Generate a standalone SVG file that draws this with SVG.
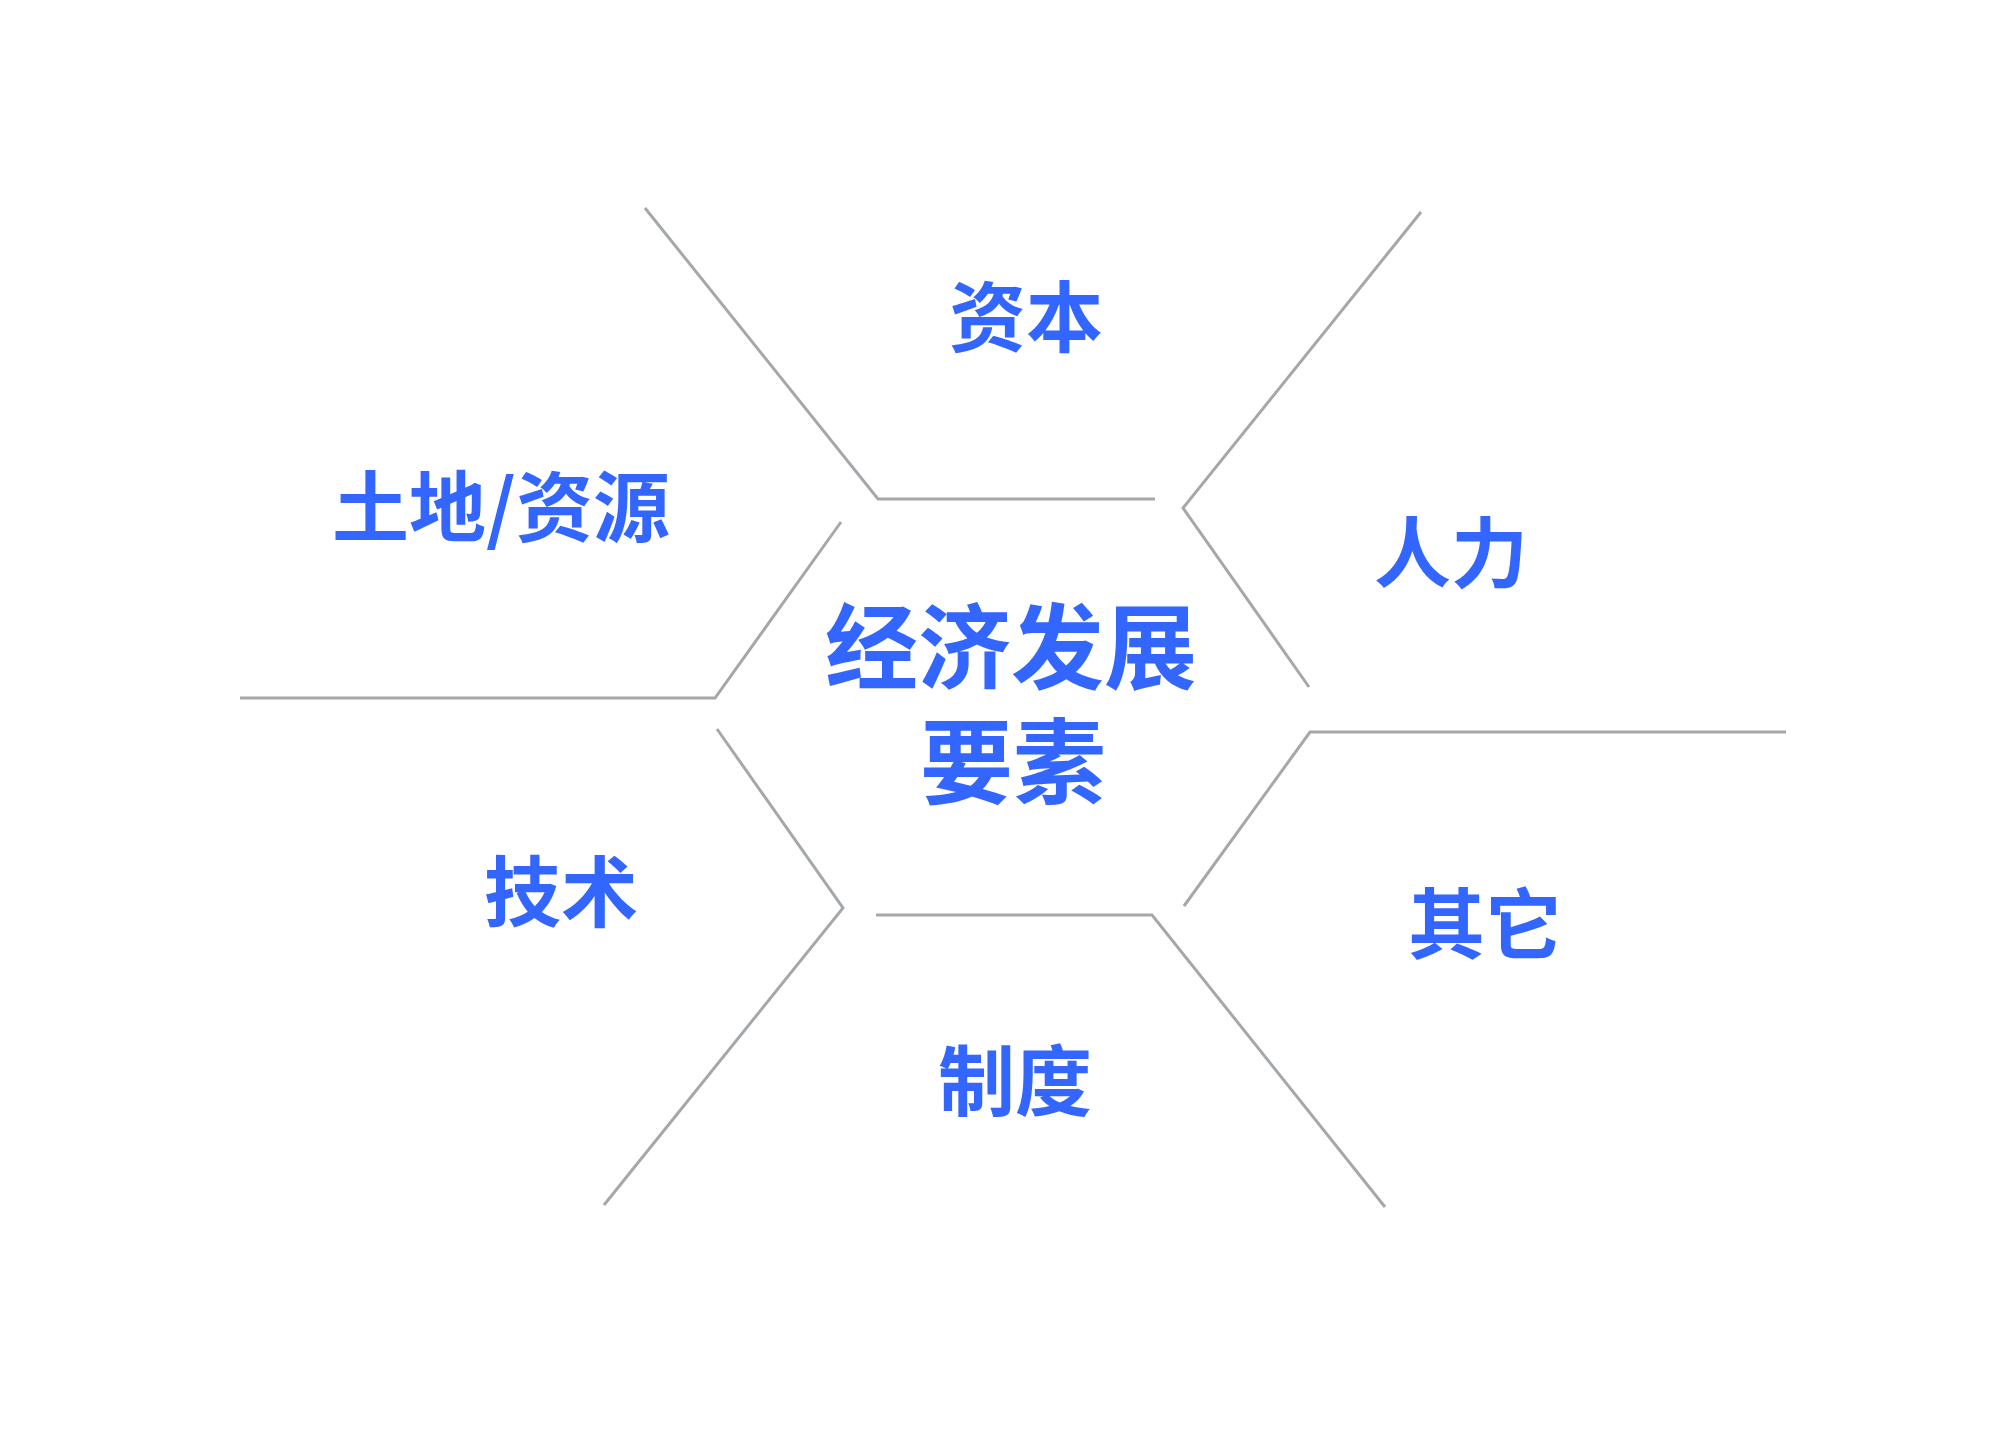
<svg xmlns="http://www.w3.org/2000/svg" width="2016" height="1435" viewBox="0 0 2016 1435">
<style>
.c{fill:none;stroke:#a5a8ab;stroke-width:3;stroke-linejoin:miter}
.t{font-family:"Noto Sans CJK SC","Noto Sans",sans-serif;font-weight:bold;fill:#3366ff;text-anchor:middle}
.l{font-size:77px}
.m{font-size:93px}
</style>
<rect width="2016" height="1435" fill="#ffffff"/>
<g id="connectors">
<polyline class="c" points="645,208 878,499 1155,499"/>
<polyline class="c" points="1421,212 1183,508 1309,687"/>
<polyline class="c" points="240,698 715,698 841,522"/>
<polyline class="c" points="1786,732 1310,732 1184,906"/>
<polyline class="c" points="717,729 843,908 604,1205"/>
<polyline class="c" points="876,915 1152,915 1385,1207"/>
</g>
<g id="center"><text class="t m" x="1011" y="682">经济发展</text><text class="t m" x="1013" y="797">要素</text></g>
<g id="capital"><text class="t l" x="1026" y="346">资本</text></g>
<g id="labor"><text class="t l" x="1451" y="582">人力</text></g>
<g id="land"><text class="t l" x="501" y="536">土地/资源</text></g>
<g id="tech"><text class="t l" x="561" y="921">技术</text></g>
<g id="other"><text class="t l" x="1485" y="953">其它</text></g>
<g id="institution"><text class="t l" x="1015" y="1110">制度</text></g>
</svg>
